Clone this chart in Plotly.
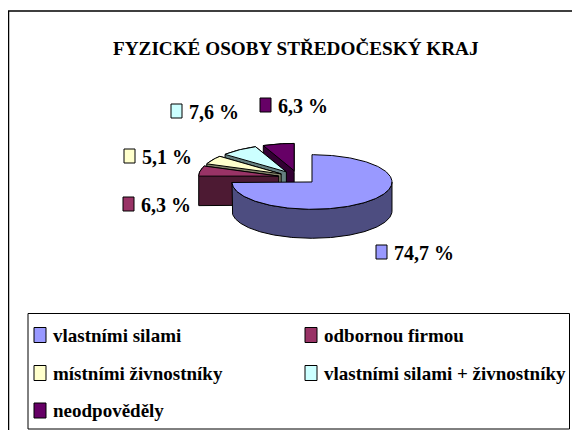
import math
import plotly.graph_objects as go

categories = ["vlastními silami", "odbornou firmou", "místními živnostníky",
              "vlastními silami + živnostníky", "neodpověděly"]
shares = [74.7, 6.3, 5.1, 7.6, 6.3]
share_labels = ["74,7 %", "6,3 %", "5,1 %", "7,6 %", "6,3 %"]
title_text = "FYZICKÉ OSOBY STŘEDOČESKÝ KRAJ"

top_colors = ["#9999FF", "#993366", "#FFFFCC", "#CCFFFF", "#660066"]
side_colors = ["#4D4D80", "#4D1A33", "#808066", "#668080", "#330033"]

# layout (pixel space of the 580x430 window; the page body has an 8px margin)
W, H, PAGE = 580, 430, 8
CX, CY, RX, RY, DEPTH, EXPLODE = 298, 177.3, 80, 27.3, 29, 0.245
FONT = "Liberation Serif"
label_boxes = [(376, 252), (123, 204), (124, 156), (171, 111), (260, 105)]
legend_boxes = [(34, 335), (305, 335), (34, 373), (305, 373), (34, 410.5)]
SERIF_BLACK = "#000000"


def ellipse_point(apex, deg):
    t = math.radians(deg)
    return apex[0] + RX * math.sin(t), apex[1] - RY * math.cos(t)


def hull(points):
    pts = sorted(set(points))

    def half(seq):
        out = []
        for p in seq:
            while len(out) > 1 and ((out[-1][0] - out[-2][0]) * (p[1] - out[-2][1])
                                    - (out[-1][1] - out[-2][1]) * (p[0] - out[-2][0])) <= 0:
                out.pop()
            out.append(p)
        return out[:-1]

    return half(pts) + half(pts[::-1])


def poly(points, fill, line, width, name=None):
    xs = [p[0] for p in points] + [points[0][0]]
    ys = [p[1] for p in points] + [points[0][1]]
    return go.Scatter(x=xs, y=ys, mode="lines", fill="toself", fillcolor=fill,
                      line=dict(color=line, width=width), hoverinfo="text" if name else "skip",
                      text=name, showlegend=False)


# slice geometry comes from the shares
slices = []
start = 0.0
for i, s in enumerate(shares):
    end = start + s * 3.6
    mid = math.radians((start + end) / 2)
    apex = (CX + EXPLODE * RX * math.sin(mid), CY - EXPLODE * RY * math.cos(mid))
    n = max(int(end - start), 8)
    arc = [ellipse_point(apex, start + (end - start) * k / n) for k in range(n + 1)]
    slices.append((i, start, end, apex, arc))
    start = end

fig = go.Figure()

# back-to-front: last slice is furthest back, the large slice is in front
for i, a, b, apex, arc in sorted(slices, key=lambda q: -q[0]):
    top = [apex] + arc
    if b - a <= 180:
        side = hull(top + [(x, y + DEPTH) for x, y in top])
    else:
        wall = [p for k, p in enumerate(arc)
                if a + (b - a) * k / (len(arc) - 1) >= 90]
        side = wall + [(x, y + DEPTH) for x, y in wall[::-1]]
    fig.add_trace(poly(side, side_colors[i], "#000000", 1))
    fig.add_trace(poly(top, top_colors[i], "#000000", 1,
                       f"{categories[i]}: {share_labels[i]}"))

shapes = [
    dict(type="rect", x0=8.5, y0=11, x1=W + 5, y1=H + 5,
         line=dict(color="#000000", width=1.5)),
    dict(type="rect", x0=28, y0=313.5, x1=569.5, y1=429,
         fillcolor="#FFFFFF", line=dict(color="#000000", width=1)),
]
annotations = [dict(x=295.5, y=48, text=f"<b>{title_text}</b>", showarrow=False,
                    font=dict(family=FONT, size=19.2, color=SERIF_BLACK))]

for (x, y), lab, c in zip(label_boxes, share_labels, top_colors):
    shapes.append(dict(type="rect", x0=x, x1=x + 11, y0=y - 7, y1=y + 7,
                       fillcolor=c, line=dict(color="#000000", width=1)))
    annotations.append(dict(x=x + 16, y=y + 1, text=f"<b>{lab}</b>", showarrow=False,
                            xanchor="left", font=dict(family=FONT, size=20, color=SERIF_BLACK)))

for (x, y), cat, c in zip(legend_boxes, categories, top_colors):
    shapes.append(dict(type="rect", x0=x, x1=x + 12, y0=y - 7.5, y1=y + 7.5,
                       fillcolor=c, line=dict(color="#000000", width=1)))
    annotations.append(dict(x=x + 17, y=y, text=f"<b>{cat}</b>", showarrow=False,
                            xanchor="left", font=dict(family=FONT, size=19, color=SERIF_BLACK)))

fig.update_layout(
    width=W - PAGE, height=H - PAGE, margin=dict(l=0, r=0, t=0, b=0),
    paper_bgcolor="#FFFFFF", plot_bgcolor="#FFFFFF", showlegend=False,
    xaxis=dict(range=[PAGE, W], visible=False, fixedrange=True),
    yaxis=dict(range=[H, PAGE], visible=False, fixedrange=True),
    shapes=shapes, annotations=annotations,
)
fig.write_html("out.html", config=dict(displayModeBar=False))
